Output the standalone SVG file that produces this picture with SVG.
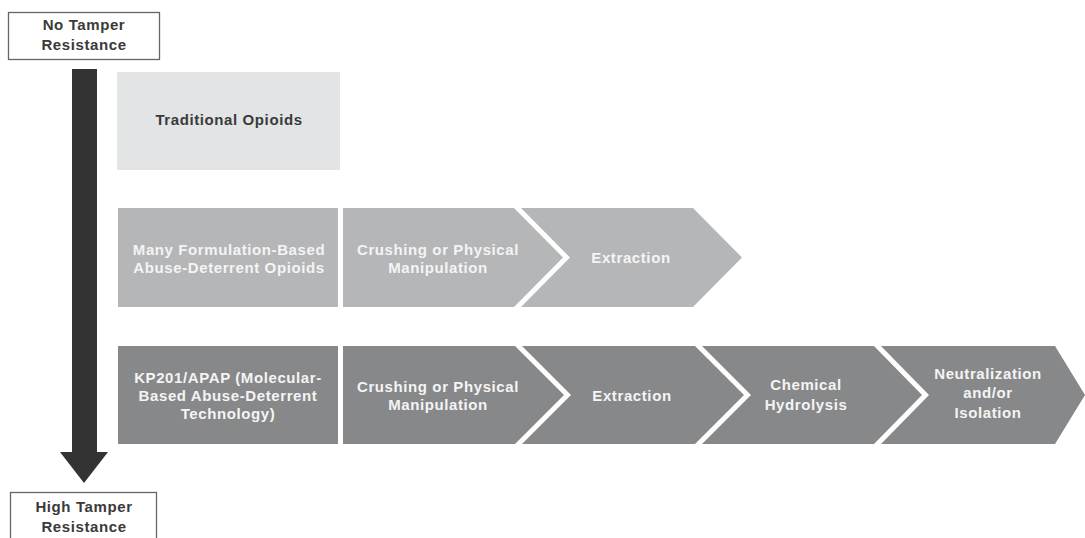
<svg xmlns="http://www.w3.org/2000/svg" width="1085" height="538" viewBox="0 0 1085 538">
<style>
text{font-family:"Liberation Sans",Arial,sans-serif;font-weight:bold;font-size:15px;letter-spacing:0.6px;text-anchor:middle}
.lbl{fill:#3a3a3a}
.wt{fill:#f4f4f4}
.endbox{fill:#ffffff;stroke:#666;stroke-width:1.3}
.r1{fill:#e3e4e6}
.r2{fill:#b5b6b8}
.r3{fill:#87888a}
</style>
<g id="no-tamper">
<rect class="endbox" x="8.5" y="12.5" width="151" height="47"/>
<text class="lbl" x="84" y="30">No Tamper</text>
<text class="lbl" x="84" y="50">Resistance</text>
</g>
<g id="connectors">
<rect x="72" y="69" width="25" height="384" fill="#333333"/>
<polygon points="60,452 108,452 84,483" fill="#333333"/>
</g>
<g id="high-tamper">
<rect class="endbox" x="10.5" y="492.5" width="146" height="50"/>
<text class="lbl" x="84" y="512">High Tamper</text>
<text class="lbl" x="84" y="532">Resistance</text>
</g>
<g id="traditional">
<rect class="r1" x="117" y="72" width="223" height="98"/>
<text class="lbl" x="229" y="125">Traditional Opioids</text>
</g>
<g id="formulation">
<rect class="r2" x="118" y="208" width="220" height="99"/>
<text class="wt" x="229" y="255">Many Formulation-Based</text>
<text class="wt" x="229" y="273">Abuse-Deterrent Opioids</text>
</g>
<g id="r2-crushing">
<polygon class="r2" points="343,208 514,208 563,257.5 514,307 343,307"/>
<text class="wt" x="438" y="255">Crushing or Physical</text>
<text class="wt" x="438" y="273">Manipulation</text>
</g>
<g id="r2-extraction">
<polygon class="r2" points="521,208 693,208 742,257.5 693,307 521,307 570,257.5"/>
<text class="wt" x="631" y="263">Extraction</text>
</g>
<g id="kp201">
<rect class="r3" x="118" y="346" width="220" height="98"/>
<text class="wt" x="228" y="383">KP201/APAP (Molecular-</text>
<text class="wt" x="228" y="401">Based Abuse-Deterrent</text>
<text class="wt" x="228" y="419">Technology)</text>
</g>
<g id="r3-crushing">
<polygon class="r3" points="343,346 515,346 564,395 515,444 343,444"/>
<text class="wt" x="438" y="392">Crushing or Physical</text>
<text class="wt" x="438" y="410">Manipulation</text>
</g>
<g id="r3-extraction">
<polygon class="r3" points="522,346 695,346 744,395 695,444 522,444 571,395"/>
<text class="wt" x="632" y="401">Extraction</text>
</g>
<g id="r3-hydrolysis">
<polygon class="r3" points="702,346 874,346 922,395 874,444 702,444 751,395"/>
<text class="wt" x="806" y="390">Chemical</text>
<text class="wt" x="806" y="410">Hydrolysis</text>
</g>
<g id="r3-neutralization">
<polygon class="r3" points="881,346 1055,346 1085,395 1055,444 881,444 929,395"/>
<text class="wt" x="988" y="379">Neutralization</text>
<text class="wt" x="988" y="398">and/or</text>
<text class="wt" x="988" y="418">Isolation</text>
</g>
</svg>
